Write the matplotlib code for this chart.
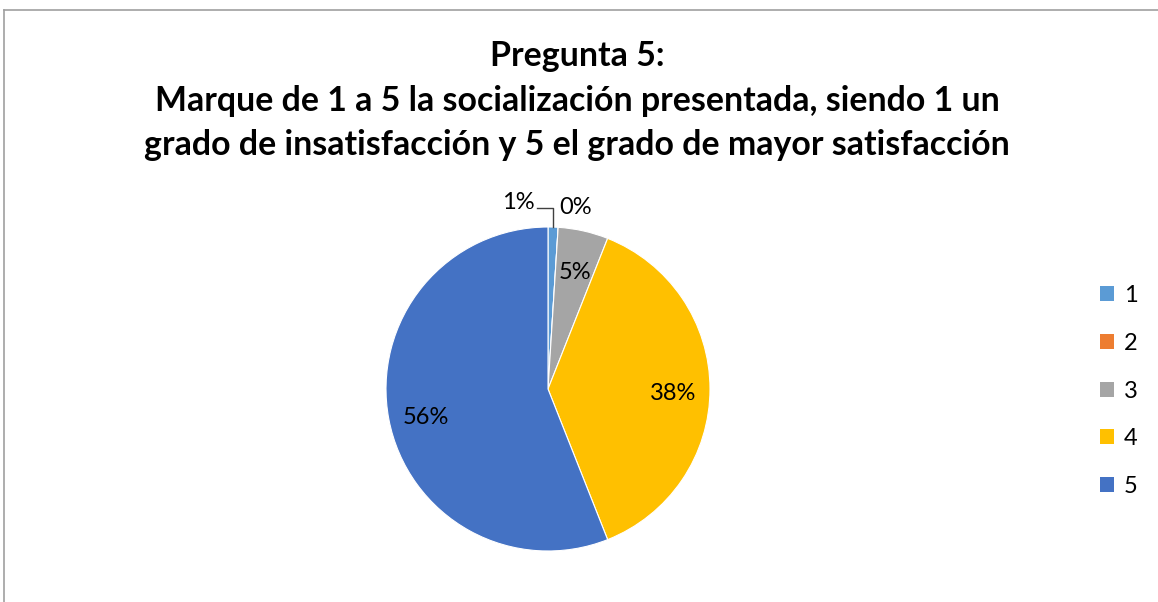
import matplotlib.pyplot as plt
from matplotlib.patches import Patch
import numpy as np

# --- Data ---
categories = ['1', '2', '3', '4', '5']
values = [1, 0, 5, 38, 56]          # percent
colors = ['#5B9BD5', '#ED7D31', '#A5A5A5', '#FFC000', '#4472C4']
title_lines = ['Pregunta 5:',
               'Marque de 1 a 5 la socialización presentada, siendo 1 un',
               'grado de insatisfacción y 5 el grado de mayor satisfacción']

plt.rcParams['font.family'] = ['Lato', 'DejaVu Sans']

W, H = 1158, 602
fig = plt.figure(figsize=(W / 100, H / 100), dpi=100)

# chart border (only top and left visible)
fig.add_artist(plt.Line2D([4 / W, 4 / W], [0, 1 - 10 / H], color='#A0A0A0', lw=1.2))
fig.add_artist(plt.Line2D([4 / W, 1], [1 - 10 / H, 1 - 10 / H], color='#A0A0A0', lw=1.2))

# title
for txt, y in zip(title_lines, [56, 101, 145]):
    fig.text(577 / W, 1 - y / H, txt, ha='center', va='center',
             fontsize=24.4, fontweight='bold')

# pie axes: center (548, 389), radius 162 px
r = 162
ax = fig.add_axes([(548 - r) / W, (H - 389 - r) / H, 2 * r / W, 2 * r / H])
wedges, _ = ax.pie(values, colors=colors, startangle=90, counterclock=False,
                   wedgeprops=dict(edgecolor='white', linewidth=0.8))
ax.set_xlim(-1, 1)
ax.set_ylim(-1, 1)
ax.set_aspect('equal')

# labels for the big slices, inside the wedges
for w, v in zip(wedges, values):
    if v < 3:
        continue
    ang = np.deg2rad((w.theta1 + w.theta2) / 2)
    ax.text(0.77 * np.cos(ang), 0.77 * np.sin(ang) - 0.03, f'{v}%',
            ha='center', va='center', fontsize=17)

# small slices: labels outside with a leader line for the first
a1 = np.deg2rad((wedges[0].theta1 + wedges[0].theta2) / 2)
x1 = np.cos(a1)
ax.plot([x1, x1, -0.07], [np.sin(a1), 1.12, 1.12], color='#404040', lw=1,
        clip_on=False)
ax.text(-0.08, 1.15, f'{values[0]}%', ha='right', va='center', fontsize=17)
ax.text(0.17, 1.12, f'{values[1]}%', ha='center', va='center', fontsize=17)

# legend
handles = [Patch(facecolor=c, edgecolor='none') for c in colors]
fig.legend(handles, categories, loc='center left',
           bbox_to_anchor=(1079 / W, 1 - 391 / H), frameon=False,
           fontsize=17, handlelength=0.6, handleheight=0.6,
           handletextpad=0.4, labelspacing=1.13)

fig.savefig('out.png', dpi=100)
